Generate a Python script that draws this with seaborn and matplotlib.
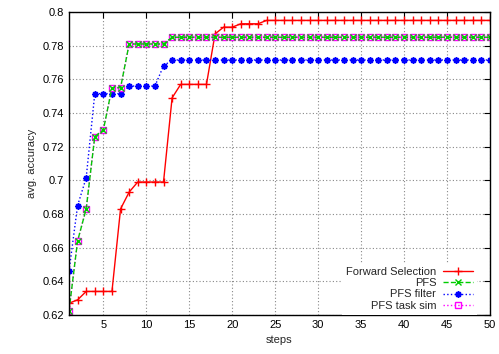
import numpy as np
import pandas as pd
import seaborn as sns
import matplotlib
matplotlib.use("Agg")
import matplotlib.pyplot as plt

steps = list(range(1, 51))

forward_selection = [0.627, 0.629, 0.634, 0.634, 0.634, 0.634, 0.683, 0.693, 0.699, 0.699,
                     0.699, 0.699, 0.749, 0.757, 0.757, 0.757, 0.757, 0.787, 0.791, 0.791,
                     0.793, 0.793, 0.793] + [0.795] * 27
pfs = [0.6225, 0.664, 0.683, 0.726, 0.730, 0.755, 0.755, 0.781, 0.781, 0.781,
       0.781, 0.781] + [0.785] * 38
pfs_filter = [0.646, 0.685, 0.7015, 0.7515, 0.7515, 0.7515, 0.7515, 0.756, 0.756, 0.756,
              0.756, 0.768] + [0.7715] * 38
pfs_task_sim = list(pfs)

series_names = ["Forward Selection", "PFS", "PFS filter", "PFS task sim"]
series_values = [forward_selection, pfs, pfs_filter, pfs_task_sim]

x_ticks = [5, 10, 15, 20, 25, 30, 35, 40, 45, 50]
y_ticks = [0.62, 0.64, 0.66, 0.68, 0.70, 0.72, 0.74, 0.76, 0.78, 0.80]
y_tick_labels = ["0.62", "0.64", "0.66", "0.68", "0.7", "0.72", "0.74", "0.76", "0.78", "0.8"]

sns.set_style("white")
plt.rcParams['font.family'] = ['Liberation Sans', 'DejaVu Sans']

df = pd.DataFrame({
    "steps": steps * 4,
    "acc": sum(series_values, []),
    "series": sum([[n] * len(steps) for n in series_names], []),
})

fig = plt.figure(figsize=(4.99, 3.54), dpi=100)
ax = fig.add_axes([69 / 499, 1 - 315 / 354, (490 - 69) / 499, (315 - 12) / 354])

styles = {
    "Forward Selection": dict(color="#ff0000", linestyle="-", marker="+", markersize=6, mew=1.0),
    "PFS": dict(color="#00cc00", linestyle="--", marker="x", markersize=4, mew=1.0, dashes=(3, 2)),
    "PFS filter": dict(color="#0000ff", linestyle=":", marker=(8, 2, 0), markersize=4.5, mew=1.2),
    "PFS task sim": dict(color="#ff00ff", linestyle=":", marker="s", markersize=5, mew=1.0,
                         markerfacecolor="none"),
}
order_draw = ["Forward Selection", "PFS filter", "PFS task sim", "PFS"]
for name in order_draw:
    st = dict(styles[name])
    color = st.pop("color")
    sub = df[df["series"] == name]
    sns.lineplot(data=sub, x="steps", y="acc", ax=ax, color=color, lw=1.0,
                 markeredgecolor=color, label=name, **st)

ax.set_xlim(1, 50)
ax.set_ylim(0.62, 0.8)
ax.set_xticks(x_ticks)
ax.set_yticks(y_ticks)
ax.set_yticklabels(y_tick_labels)
ax.grid(True, color="#888888", linestyle=(0, (1, 2)), linewidth=0.8)
ax.tick_params(direction="in", top=True, right=True, length=4, width=0.8, labelsize=8,
               colors="black")
for s in ax.spines.values():
    s.set_color("black")
    s.set_linewidth(1.0)
ax.set_xlabel("steps", fontsize=8)
ax.set_ylabel("avg. accuracy", fontsize=8)

h, l = ax.get_legend_handles_labels()
hd = dict(zip(l, h))
leg = ax.legend([hd[n] for n in series_names], series_names, loc="lower right",
                bbox_to_anchor=(0.970, 0.0),
                markerfirst=False, frameon=True, fontsize=8, handlelength=2.7,
                borderaxespad=0.0, handletextpad=0.6, labelspacing=0.1, borderpad=0.4)
leg.get_frame().set_edgecolor("none")
leg.get_frame().set_facecolor("white")
leg.get_frame().set_alpha(1.0)
leg.get_frame().set_boxstyle("square", pad=0.0)
for t in leg.get_texts():
    t.set_ha("right")

fig.savefig("out.png", dpi=100)
